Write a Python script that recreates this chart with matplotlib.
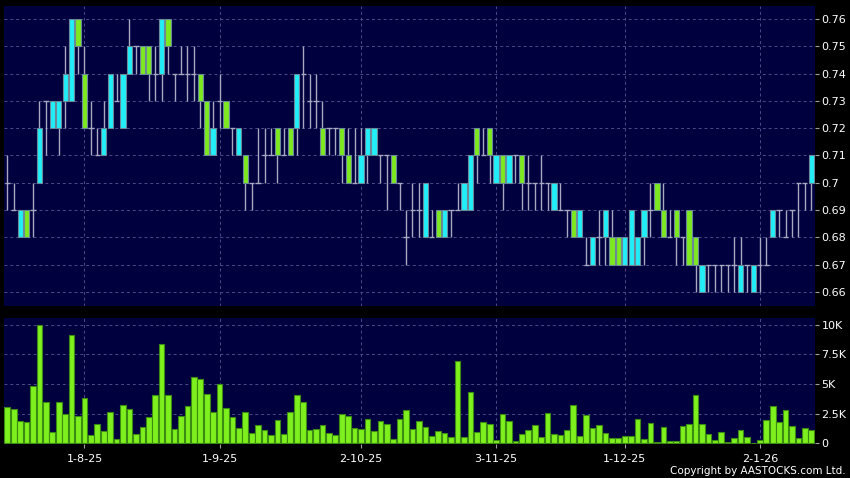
import matplotlib
matplotlib.use("Agg")
import matplotlib.pyplot as plt
import numpy as np

# daily OHLC, 16-7-25 .. 14-1-26
opens = [0.70, 0.69, 0.68, 0.69, 0.69, 0.70, 0.73, 0.72, 0.72, 0.73,
         0.73, 0.76, 0.74, 0.72, 0.71, 0.71, 0.72, 0.73, 0.72, 0.74,
         0.75, 0.75, 0.75, 0.74, 0.74, 0.76, 0.74, 0.74, 0.74, 0.74,
         0.74, 0.73, 0.71, 0.73, 0.73, 0.72, 0.71, 0.71, 0.70, 0.70,
         0.71, 0.71, 0.72, 0.71, 0.72, 0.72, 0.74, 0.73, 0.73, 0.72,
         0.72, 0.72, 0.72, 0.71, 0.70, 0.70, 0.71, 0.71, 0.71, 0.71,
         0.71, 0.70, 0.68, 0.69, 0.69, 0.68, 0.68, 0.69, 0.68, 0.69,
         0.69, 0.69, 0.69, 0.72, 0.71, 0.72, 0.70, 0.71, 0.70, 0.71,
         0.71, 0.70, 0.70, 0.70, 0.70, 0.69, 0.69, 0.69, 0.69, 0.68,
         0.67, 0.67, 0.68, 0.68, 0.68, 0.68, 0.67, 0.67, 0.67, 0.68,
         0.69, 0.70, 0.69, 0.68, 0.69, 0.68, 0.69, 0.68, 0.66, 0.67,
         0.67, 0.67, 0.67, 0.67, 0.66, 0.67, 0.66, 0.67, 0.67, 0.68,
         0.69, 0.68, 0.69, 0.70, 0.70, 0.70]
highs = [0.71, 0.70, 0.69, 0.69, 0.70, 0.73, 0.73, 0.73, 0.73, 0.75,
         0.76, 0.76, 0.75, 0.73, 0.72, 0.73, 0.74, 0.74, 0.74, 0.76,
         0.75, 0.75, 0.75, 0.75, 0.76, 0.76, 0.74, 0.75, 0.75, 0.75,
         0.74, 0.73, 0.73, 0.74, 0.73, 0.72, 0.72, 0.71, 0.70, 0.72,
         0.72, 0.72, 0.72, 0.72, 0.72, 0.74, 0.75, 0.74, 0.74, 0.73,
         0.72, 0.72, 0.72, 0.72, 0.72, 0.72, 0.72, 0.72, 0.71, 0.71,
         0.71, 0.70, 0.69, 0.70, 0.70, 0.70, 0.69, 0.69, 0.69, 0.69,
         0.70, 0.70, 0.71, 0.72, 0.72, 0.72, 0.71, 0.71, 0.71, 0.71,
         0.71, 0.71, 0.70, 0.71, 0.70, 0.70, 0.70, 0.69, 0.69, 0.69,
         0.68, 0.68, 0.69, 0.69, 0.69, 0.68, 0.68, 0.69, 0.68, 0.69,
         0.70, 0.70, 0.70, 0.69, 0.69, 0.68, 0.69, 0.68, 0.67, 0.67,
         0.67, 0.67, 0.67, 0.68, 0.68, 0.67, 0.67, 0.68, 0.68, 0.69,
         0.69, 0.69, 0.69, 0.70, 0.70, 0.71]
lows = [0.69, 0.69, 0.68, 0.68, 0.68, 0.70, 0.71, 0.72, 0.71, 0.72,
        0.73, 0.74, 0.72, 0.71, 0.71, 0.71, 0.72, 0.73, 0.72, 0.74,
        0.74, 0.74, 0.73, 0.73, 0.73, 0.74, 0.73, 0.74, 0.73, 0.73,
        0.72, 0.71, 0.71, 0.72, 0.72, 0.71, 0.71, 0.69, 0.69, 0.70,
        0.70, 0.71, 0.70, 0.71, 0.71, 0.71, 0.72, 0.72, 0.72, 0.71,
        0.71, 0.71, 0.70, 0.70, 0.70, 0.70, 0.70, 0.71, 0.70, 0.69,
        0.70, 0.69, 0.67, 0.68, 0.68, 0.68, 0.68, 0.68, 0.68, 0.68,
        0.69, 0.69, 0.69, 0.70, 0.71, 0.70, 0.70, 0.69, 0.70, 0.70,
        0.69, 0.69, 0.69, 0.69, 0.69, 0.69, 0.69, 0.68, 0.68, 0.68,
        0.67, 0.67, 0.67, 0.67, 0.67, 0.67, 0.67, 0.67, 0.67, 0.67,
        0.68, 0.69, 0.68, 0.68, 0.67, 0.67, 0.67, 0.66, 0.66, 0.66,
        0.66, 0.66, 0.66, 0.66, 0.66, 0.66, 0.66, 0.66, 0.67, 0.68,
        0.68, 0.68, 0.68, 0.68, 0.69, 0.69]
closes = [0.70, 0.69, 0.69, 0.68, 0.69, 0.72, 0.73, 0.73, 0.73, 0.74,
          0.76, 0.75, 0.72, 0.72, 0.71, 0.72, 0.74, 0.73, 0.74, 0.75,
          0.75, 0.74, 0.74, 0.74, 0.76, 0.75, 0.74, 0.74, 0.74, 0.74,
          0.73, 0.71, 0.72, 0.73, 0.72, 0.72, 0.72, 0.70, 0.70, 0.70,
          0.71, 0.71, 0.71, 0.71, 0.71, 0.74, 0.74, 0.73, 0.73, 0.71,
          0.72, 0.72, 0.71, 0.70, 0.70, 0.71, 0.72, 0.72, 0.71, 0.71,
          0.70, 0.70, 0.68, 0.69, 0.69, 0.70, 0.68, 0.68, 0.69, 0.69,
          0.69, 0.70, 0.71, 0.71, 0.71, 0.71, 0.71, 0.70, 0.71, 0.71,
          0.70, 0.70, 0.70, 0.70, 0.70, 0.70, 0.69, 0.69, 0.68, 0.69,
          0.67, 0.68, 0.68, 0.69, 0.67, 0.67, 0.68, 0.69, 0.68, 0.69,
          0.69, 0.69, 0.68, 0.68, 0.68, 0.68, 0.67, 0.67, 0.67, 0.67,
          0.67, 0.67, 0.67, 0.67, 0.67, 0.67, 0.67, 0.67, 0.67, 0.69,
          0.69, 0.68, 0.69, 0.70, 0.70, 0.71]

# volume in thousands of shares
volume_k = [3.09, 2.87, 1.85, 1.83, 4.83, 9.97, 3.46, 0.96, 3.46, 2.47,
            9.10, 2.30, 3.79, 0.67, 1.63, 1.01, 2.64, 0.39, 3.23, 2.89,
            0.79, 1.40, 2.22, 4.07, 8.37, 4.04, 1.18, 2.30, 3.12, 5.56,
            5.42, 4.19, 2.61, 5.03, 3.00, 2.22, 1.32, 2.67, 0.84, 1.52,
            1.12, 0.70, 2.00, 0.79, 2.61, 4.07, 3.48, 1.12, 1.24, 1.54,
            0.87, 0.70, 2.47, 2.33, 1.29, 1.24, 2.02, 1.04, 1.91, 1.66,
            0.39, 2.05, 2.84, 1.24, 1.88, 1.40, 0.62, 1.07, 0.87, 0.53,
            6.94, 0.53, 4.33, 0.96, 1.77, 1.63, 0.28, 2.50, 1.88, 0.17,
            0.79, 1.15, 1.57, 0.56, 2.56, 0.79, 0.73, 1.15, 3.20, 0.65,
            2.42, 1.29, 1.57, 0.84, 0.42, 0.42, 0.62, 0.62, 2.08, 0.37,
            1.69, 0.11, 1.40, 0.20, 0.22, 1.46, 1.63, 4.04, 1.63, 0.79,
            0.31, 0.98, 0.08, 0.42, 1.12, 0.53, 0.06, 0.28, 1.94, 3.17,
            1.83, 2.81, 1.43, 0.45, 1.29, 1.10]

date_labels = ["1-8-25", "1-9-25", "2-10-25", "3-11-25", "1-12-25", "2-1-26"]
date_index = [12, 33, 55, 76, 96, 117]
price_ticks = [0.66, 0.67, 0.68, 0.69, 0.70, 0.71, 0.72, 0.73, 0.74, 0.75, 0.76]
price_tick_labels = ["0.66", "0.67", "0.68", "0.69", "0.7", "0.71", "0.72",
                     "0.73", "0.74", "0.75", "0.76"]
vol_ticks = [0, 2.5, 5, 7.5, 10]
vol_tick_labels = ["0", "2.5K", "5K", "7.5K", "10K"]

BG = "#000000"
PANEL = "#00003f"
GRID = "#4c4c8c"
UP = "#22eef8"
DOWN = "#7ee820"
WICK = "#a8a8c0"
VOL = "#7ef01e"

W, H = 850, 478
fig = plt.figure(figsize=(W / 100, H / 100), dpi=100, facecolor=BG)
ax = fig.add_axes([4 / W, (H - 306) / H, 810.5 / W, 300.5 / H])
axv = fig.add_axes([4 / W, (H - 444) / H, 810.5 / W, 125.7 / H])

o = np.array(opens)
h = np.array(highs)
l = np.array(lows)
c = np.array(closes)
x = np.arange(len(o))
bw = 0.82

for a in (ax, axv):
    a.set_facecolor(PANEL)
    for s in a.spines.values():
        s.set_visible(False)
    a.set_xlim(-0.51, 125.5)
    a.yaxis.tick_right()
    a.tick_params(axis="y", colors="#a0a0a0", labelcolor="white", length=3,
                  width=0.8, labelsize=8, pad=2)
    a.set_axisbelow(True)
    for xi in date_index:
        a.axvline(xi, color=GRID, lw=0.7, ls=(0, (3, 3)), zorder=0)

# price panel
for yv in price_ticks:
    ax.axhline(yv, color=GRID, lw=0.7, ls=(0, (3, 3)), zorder=0)
ax.vlines(x, l, h, color=WICK, lw=1, zorder=1)
flat = o == c
ax.hlines(o[flat], x[flat] - bw / 2, x[flat] + bw / 2, color=WICK, lw=1, zorder=1)
up = c > o
dn = c < o
ax.bar(x[up], (c - o)[up], bottom=o[up], width=bw, color=UP,
       edgecolor="#6a8a9a", lw=0.8, zorder=2)
ax.bar(x[dn], (o - c)[dn], bottom=c[dn], width=bw, color=DOWN,
       edgecolor="#6a8a9a", lw=0.8, zorder=2)
ax.set_ylim(0.6549, 0.7649)
ax.set_yticks(price_ticks)
ax.set_yticklabels(price_tick_labels)
ax.set_xticks([])

# volume panel
for yv in vol_ticks[1:]:
    axv.axhline(yv, color=GRID, lw=0.7, ls=(0, (3, 3)), zorder=0)
axv.bar(x, volume_k, width=0.88, color=VOL, edgecolor="#3c8c14", lw=0.8, zorder=2)
axv.set_ylim(-0.06, 10.54)
axv.set_yticks(vol_ticks)
axv.set_yticklabels(vol_tick_labels)
axv.set_xticks(date_index)
axv.set_xticklabels(date_labels)
axv.tick_params(axis="x", colors="#a0a0a0", labelcolor="white", length=3,
                width=0.8, labelsize=8, pad=4)

fig.text(846 / W, 1 - 471 / H, "Copyright by AASTOCKS.com Ltd.", color="white",
         fontsize=7.5, ha="right", va="center")

fig.savefig("out.png", dpi=100, facecolor=BG)
